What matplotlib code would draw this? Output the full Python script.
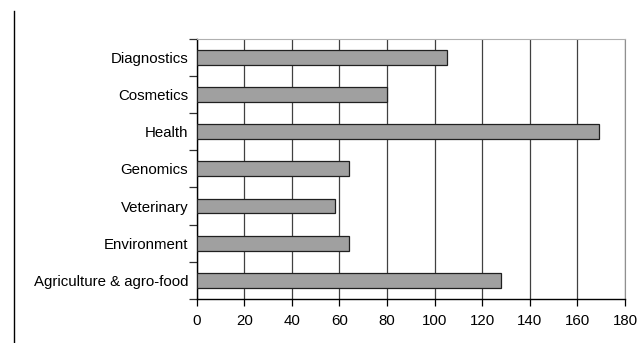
import matplotlib
matplotlib.use("Agg")
import matplotlib.pyplot as plt
from matplotlib.lines import Line2D

categories = ["Agriculture & agro-food", "Environment", "Veterinary", "Genomics",
              "Health", "Cosmetics", "Diagnostics"]
values = [128, 64, 58, 64, 169, 80, 105]
xticks = [0, 20, 40, 60, 80, 100, 120, 140, 160, 180]

plt.rcParams['font.family'] = ['Liberation Sans', 'DejaVu Sans']

W, H = 638, 343
fig = plt.figure(figsize=(W/100, H/100), dpi=100)
left, right, top, bottom = 196.7, 625, 38.7, 299
ax = fig.add_axes([left/W, 1-bottom/H, (right-left)/W, (bottom-top)/H])

ypos = list(range(len(categories)))
ax.barh(ypos, values, height=0.4, color="#a0a0a0", edgecolor="#202020", linewidth=0.9, zorder=3)
ax.set_xlim(0, 180)
ax.set_ylim(-0.5, len(categories)-0.5)
ax.set_xticks(xticks)
ax.set_xticklabels([str(t) for t in xticks], fontsize=10.8)
ax.set_yticks([y for y in ypos])
ax.set_yticklabels(categories, fontsize=10.8)
ax.tick_params(axis='y', length=0, pad=6)
# minor ticks at category boundaries
ax.set_yticks([y - 0.5 for y in range(len(categories)+1)], minor=True)
ax.tick_params(axis='y', which='minor', length=6, direction='out', color='#303030', width=0.9)
ax.tick_params(axis='x', length=5, direction='out', color='black', width=0.9, pad=6)
ax.xaxis.grid(True, color="#404040", linewidth=0.9, zorder=0)
ax.set_axisbelow(True)
for s in ['left', 'bottom']:
    ax.spines[s].set_color('black')
    ax.spines[s].set_linewidth(1.0)
ax.spines['top'].set_color('#b0b0b0')
ax.spines['right'].set_color('#909090')

fig.add_artist(Line2D([13.5/W, 13.5/W], [0, 1 - 11/H], color='black', linewidth=1.0))

fig.savefig("out.png", dpi=100)
